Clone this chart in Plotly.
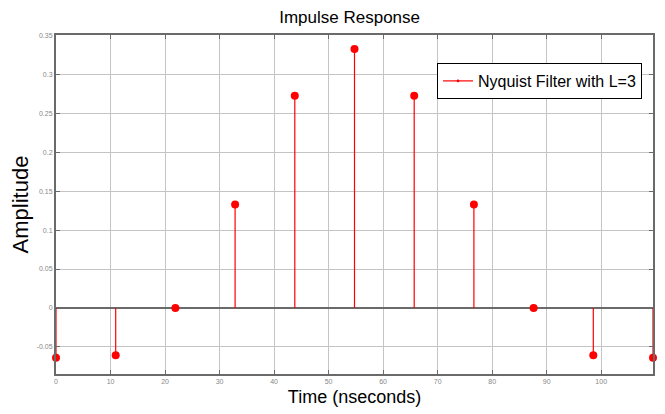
import plotly.graph_objects as go

# Data
time_ns = [0, 10.95, 21.9, 32.85, 43.8, 54.75, 65.7, 76.65, 87.6, 98.55, 109.5]
amplitude = [-0.064, -0.061, 0.0, 0.133, 0.273, 0.333, 0.273, 0.133, 0.0, -0.061, -0.064]
x_ticks = [0, 10, 20, 30, 40, 50, 60, 70, 80, 90, 100]
y_ticks = [-0.05, 0, 0.05, 0.1, 0.15, 0.2, 0.25, 0.3, 0.35]
y_tick_text = ["-0.05", "0", "0.05", "0.1", "0.15", "0.2", "0.25", "0.3", "0.35"]

xs, ys, sizes = [], [], []
for t, a in zip(time_ns, amplitude):
    xs += [t, t, None]
    ys += [0, a, None]
    sizes += [0, 8, 0]

fig = go.Figure()
fig.add_trace(go.Scatter(
    x=xs, y=ys, mode="lines+markers",
    line=dict(color="red", width=1.2),
    marker=dict(color="#ff0000", size=sizes, opacity=1, line=dict(width=0)),
    opacity=1,
    name="Nyquist Filter with L=3",
    cliponaxis=False,
))

# the page body has an 8px margin, so the figure is sized/offset to compensate
FONT = "Liberation Sans, Arial, sans-serif"
fig.update_layout(
    width=657, height=406,
    margin=dict(l=48, r=12, t=27, b=40),
    paper_bgcolor="white", plot_bgcolor="white",
    font=dict(family=FONT, color="black"),
    title=dict(text="Impulse Response", x=0.52, xanchor="center",
               y=1 - 9 / 406, yanchor="middle",
               font=dict(size=17, color="black")),
    showlegend=True,
    legend=dict(x=(437 - 56) / 597, y=1 - (63 - 35) / 339, xanchor="left", yanchor="top",
                bordercolor="black", borderwidth=1, bgcolor="white",
                font=dict(size=16, color="black")),
    xaxis=dict(range=[0, 109.5], tickvals=x_ticks, ticktext=[str(v) for v in x_ticks],
               showgrid=True, gridcolor="#c4c4c4", gridwidth=1,
               showline=True, linecolor="#6a6a6a", linewidth=2, mirror="ticks",
               ticks="inside", ticklen=4, tickcolor="#6a6a6a",
               tickfont=dict(size=7, color="#888888"), zeroline=False, automargin=False,
               title=dict(text="Time (nseconds)", font=dict(size=18, color="black"), standoff=6)),
    yaxis=dict(range=[-0.085, 0.351], tickvals=y_ticks, ticktext=y_tick_text,
               showgrid=True, gridcolor="#c4c4c4", gridwidth=1,
               showline=True, linecolor="#6a6a6a", linewidth=2, mirror="ticks",
               ticks="inside", ticklen=4, tickcolor="#6a6a6a",
               tickfont=dict(size=7, color="#888888"), automargin=False,
               zeroline=True, zerolinecolor="#6a6a6a", zerolinewidth=2,
               title=dict(text="Amplitude", font=dict(size=22, color="black"), standoff=8)),
)

fig.write_html("out.html")
